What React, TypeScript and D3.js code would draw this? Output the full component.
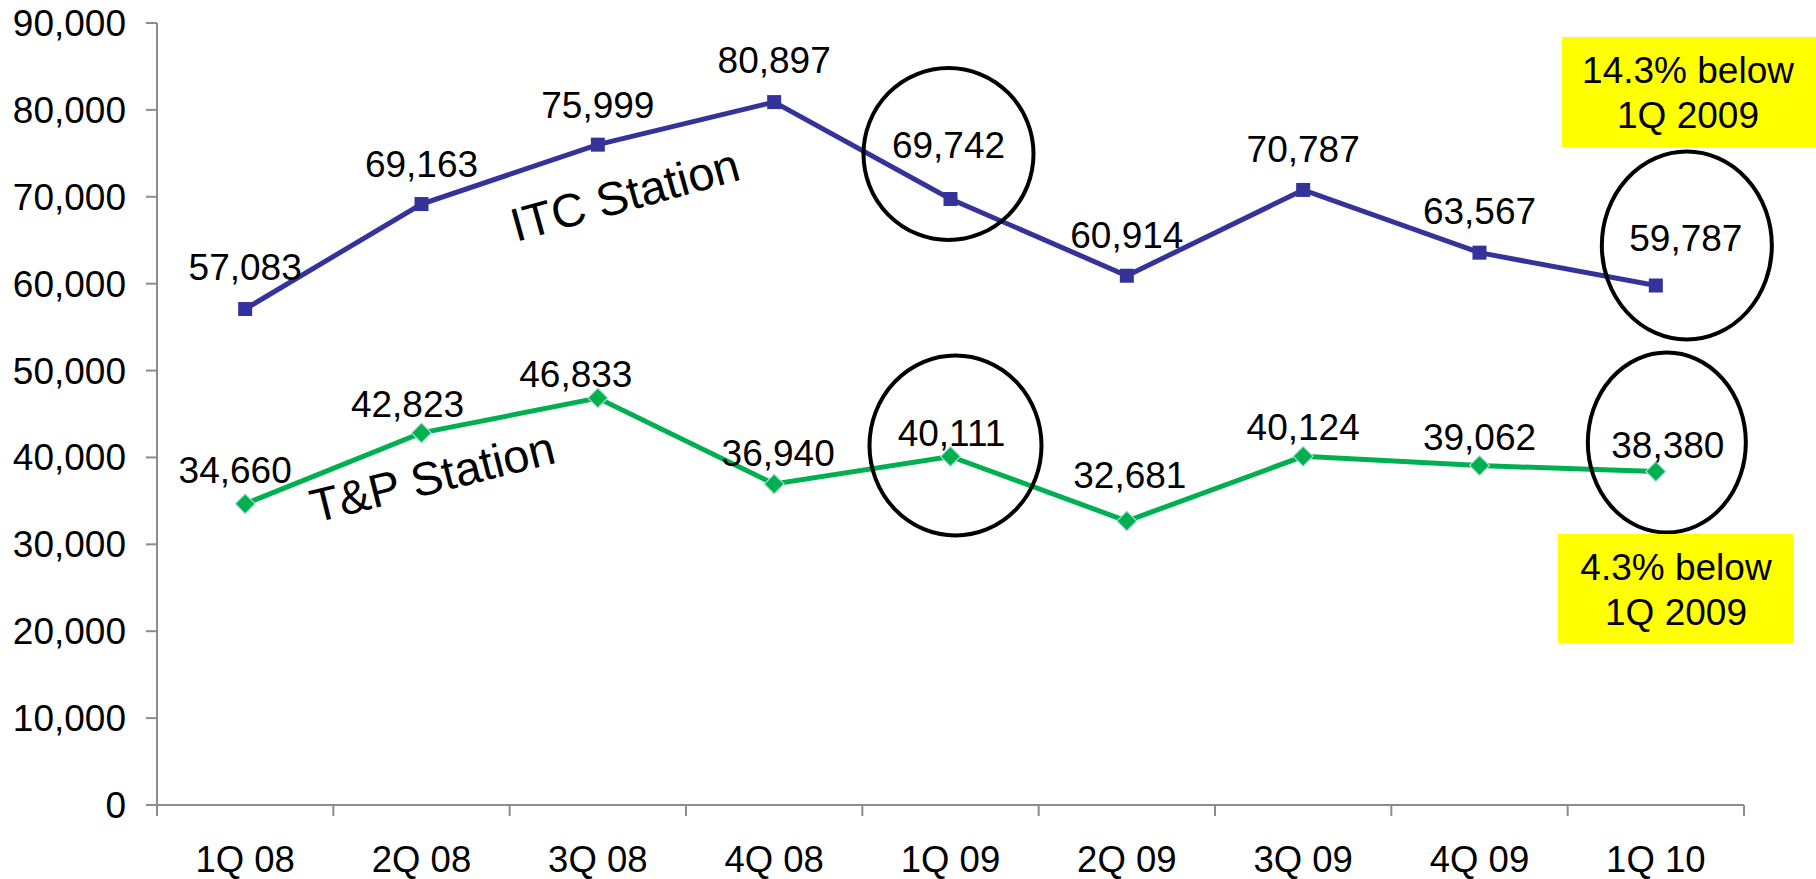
import React from "react";
import * as d3 from "d3";

const categories = ["1Q 08", "2Q 08", "3Q 08", "4Q 08", "1Q 09", "2Q 09", "3Q 09", "4Q 09", "1Q 10"];
const itcValues = [57083, 69163, 75999, 80897, 69742, 60914, 70787, 63567, 59787];
const tpValues = [34660, 42823, 46833, 36940, 40111, 32681, 40124, 39062, 38380];
const yTicks = [0, 10000, 20000, 30000, 40000, 50000, 60000, 70000, 80000, 90000];

// label nudges (layout only): [dx, dy] of label baseline-center relative to the point
const itcLabelNudge: [number, number][] = [
  [0, -29], [0, -27], [0, -27], [0, -29], [-2, -41], [0, -28], [0, -28], [0, -29], [30, -35],
];
const tpLabelNudge: [number, number][] = [
  [-10, -21], [-14, -16], [-22, -11], [4, -18], [1, -10], [3, -33], [0, -16], [0, -16], [12, -14],
];

const W = 1816;
const H = 879;
const M = { left: 157, right: 1744, top: 23, bottom: 805 };
const FONT = "'Liberation Sans', Arial, sans-serif";
const ITC_COLOR = "#333399";
const TP_COLOR = "#00B050";
const AXIS_COLOR = "#8c8c8c";

export default function App() {
  const x = d3.scaleBand<string>().domain(categories).range([M.left, M.right]).paddingInner(0).paddingOuter(0);
  const y = d3.scaleLinear().domain([0, 90000]).range([M.bottom, M.top]);
  const cx = (c: string) => (x(c) as number) + x.bandwidth() / 2;
  const fmt = d3.format(",");

  const line = d3
    .line<number>()
    .x((_, i) => cx(categories[i]))
    .y((v) => y(v));

  const boundaries = d3.range(categories.length + 1).map((i) => M.left + i * x.bandwidth());

  const i09 = categories.indexOf("1Q 09");
  const i10 = categories.indexOf("1Q 10");
  const ellipses = [
    { px: cx(categories[i09]), py: y(itcValues[i09]), dx: -2, dy: -45, rx: 85, ry: 86 },
    { px: cx(categories[i09]), py: y(tpValues[i09]), dx: 5, dy: -11, rx: 86, ry: 90 },
    { px: cx(categories[i10]), py: y(itcValues[i10]), dx: 31, dy: -40, rx: 85, ry: 94 },
    { px: cx(categories[i10]), py: y(tpValues[i10]), dx: 11, dy: -29, rx: 79, ry: 90 },
  ];

  return (
    <div style={{ position: "absolute", left: 0, top: 0 }}>
      <svg width={W} height={H} style={{ display: "block", background: "#fff" }}>
        {/* axes */}
        <line x1={M.left} y1={M.top} x2={M.left} y2={M.bottom} stroke={AXIS_COLOR} strokeWidth={2} />
        <line x1={M.left - 11} y1={M.bottom} x2={M.right} y2={M.bottom} stroke={AXIS_COLOR} strokeWidth={2} />
        {yTicks.map((t) => (
          <g key={t}>
            <line x1={M.left - 11} x2={M.left} y1={y(t)} y2={y(t)} stroke={AXIS_COLOR} strokeWidth={2} />
            <text x={126} y={y(t) + 13} textAnchor="end" fontFamily={FONT} fontSize={37} fill="#000">
              {fmt(t)}
            </text>
          </g>
        ))}
        {boundaries.map((bx, i) => (
          <line key={i} x1={bx} x2={bx} y1={M.bottom} y2={M.bottom + 11} stroke={AXIS_COLOR} strokeWidth={2} />
        ))}
        {categories.map((c) => (
          <text key={c} x={cx(c)} y={872} textAnchor="middle" fontFamily={FONT} fontSize={36.5} fill="#000">
            {c}
          </text>
        ))}

        {/* series lines */}
        <path d={line(itcValues) || ""} fill="none" stroke={ITC_COLOR} strokeWidth={5} />
        <path d={line(tpValues) || ""} fill="none" stroke={TP_COLOR} strokeWidth={5} />

        {itcValues.map((v, i) => (
          <rect key={i} x={cx(categories[i]) - 7} y={y(v) - 7} width={14} height={14} fill={ITC_COLOR} />
        ))}
        {tpValues.map((v, i) => (
          <rect
            key={i}
            x={cx(categories[i]) - 7}
            y={y(v) - 7}
            width={14}
            height={14}
            fill={TP_COLOR}
            stroke="#a8dcd0"
            strokeWidth={1.2}
            transform={`rotate(45 ${cx(categories[i])} ${y(v)})`}
          />
        ))}

        {/* data labels */}
        {itcValues.map((v, i) => (
          <text
            key={i}
            x={cx(categories[i]) + itcLabelNudge[i][0]}
            y={y(v) + itcLabelNudge[i][1]}
            textAnchor="middle"
            fontFamily={FONT}
            fontSize={37}
            fill="#000"
          >
            {fmt(v)}
          </text>
        ))}
        {tpValues.map((v, i) => (
          <text
            key={i}
            x={cx(categories[i]) + tpLabelNudge[i][0]}
            y={y(v) + tpLabelNudge[i][1]}
            textAnchor="middle"
            fontFamily={FONT}
            fontSize={37}
            fill="#000"
          >
            {fmt(v)}
          </text>
        ))}

        {/* series names */}
        <text x={516} y={242} transform="rotate(-15.5 516 242)" fontFamily={FONT} fontSize={47} fill="#000">
          ITC Station
        </text>
        <text x={315} y={523} transform="rotate(-14 315 523)" fontFamily={FONT} fontSize={47} fill="#000">
          T&amp;P Station
        </text>

        {/* ellipses */}
        {ellipses.map((e, i) => (
          <ellipse key={i} cx={e.px + e.dx} cy={e.py + e.dy} rx={e.rx} ry={e.ry} fill="none" stroke="#000" strokeWidth={4} />
        ))}

        {/* callout boxes */}
        <rect x={1562} y={37} width={254} height={110} fill="#FFFF00" />
        <text x={1688} y={83} textAnchor="middle" fontFamily={FONT} fontSize={37} fill="#000">
          14.3% below
        </text>
        <text x={1688} y={128} textAnchor="middle" fontFamily={FONT} fontSize={37} fill="#000">
          1Q 2009
        </text>
        <rect x={1558} y={534} width={235} height={109} fill="#FFFF00" />
        <text x={1676} y={580} textAnchor="middle" fontFamily={FONT} fontSize={37} fill="#000">
          4.3% below
        </text>
        <text x={1676} y={625} textAnchor="middle" fontFamily={FONT} fontSize={37} fill="#000">
          1Q 2009
        </text>
      </svg>
    </div>
  );
}
